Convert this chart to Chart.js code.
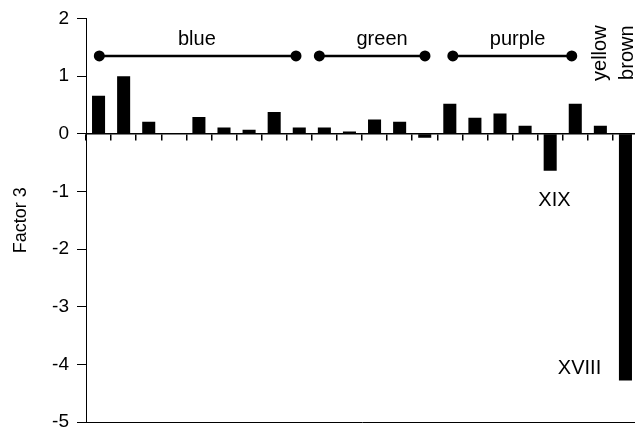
<!DOCTYPE html>
<html>
<head>
<meta charset="utf-8">
<script src="https://cdn.jsdelivr.net/npm/chart.js@4.4.1/dist/chart.umd.min.js"></script>
<style>
  html, body { margin: 0; padding: 0; background: #fff; overflow: hidden; }
  #wrap { width: 638px; height: 435px; }
</style>
</head>
<body>
<div id="wrap"><canvas id="chart"></canvas></div>
<script>
const samples = ["1", "2", "3", "4", "5", "6", "7", "8", "9", "10", "11",
                 "12", "13", "14", "15", "16", "17", "18", "19", "20", "21", "22"];
const factor3 = [0.66, 1.00, 0.21, 0, 0.29, 0.11, 0.07, 0.38, 0.11, 0.11, 0.04,
                 0.25, 0.21, -0.07, 0.52, 0.28, 0.35, 0.14, -0.64, 0.52, 0.14, -4.28];

const yTicks = [2, 1, 0, -1, -2, -3, -4, -5];

// colour groups: bracket from / to (category index), label position
const groupNames = ["blue", "green", "purple"];
const groupStart = [0.03, 8.8, 14.12];
const groupEnd = [7.87, 13.01, 18.86];
const groupLabelX = [3.92, 11.3, 16.7];
const groupLineY = 1.35;
const groupLabelY = 1.54;

// vertical labels for the single-sample groups
const sideNames = ["yellow", "brown"];
const sideX = [20.0, 21.08];
const sideTop = 1.88;

// sample notes next to bars
const noteNames = ["XIX", "XVIII"];
const noteX = [18.17, 19.17];
const noteY = [-1.25, -4.16];

const FONT = '"Liberation Sans", Arial, sans-serif';

const annotations = {
  id: "annotations",
  afterDatasetsDraw(chart) {
    const { ctx, scales: { x, y } } = chart;
    ctx.save();
    ctx.fillStyle = "#000";
    ctx.strokeStyle = "#000";
    ctx.lineWidth = 2.5;
    ctx.font = "20px " + FONT;

    const gy = y.getPixelForValue(groupLineY);
    groupNames.forEach((name, i) => {
      const x1 = x.getPixelForValue(groupStart[i]);
      const x2 = x.getPixelForValue(groupEnd[i]);
      ctx.beginPath();
      ctx.moveTo(x1, gy);
      ctx.lineTo(x2, gy);
      ctx.stroke();
      [x1, x2].forEach(px => {
        ctx.beginPath();
        ctx.arc(px, gy, 5.5, 0, Math.PI * 2);
        ctx.fill();
      });
      ctx.textAlign = "center";
      ctx.textBaseline = "alphabetic";
      ctx.fillText(name, x.getPixelForValue(groupLabelX[i]), y.getPixelForValue(groupLabelY));
    });

    // rotated labels
    sideNames.forEach((name, i) => {
      ctx.save();
      ctx.translate(x.getPixelForValue(sideX[i]), y.getPixelForValue(sideTop));
      ctx.rotate(-Math.PI / 2);
      ctx.textAlign = "right";
      ctx.textBaseline = "middle";
      ctx.fillText(name, 0, 0);
      ctx.restore();
    });

    noteNames.forEach((name, i) => {
      ctx.textAlign = "center";
      ctx.textBaseline = "alphabetic";
      ctx.fillText(name, x.getPixelForValue(noteX[i]), y.getPixelForValue(noteY[i]));
    });
    ctx.restore();
  }
};

new Chart(document.getElementById("chart"), {
  type: "bar",
  data: {
    labels: samples,
    datasets: [{
      label: "Factor 3",
      data: factor3,
      backgroundColor: "#000",
      borderWidth: 0,
      categoryPercentage: 1,
      barPercentage: 0.52
    }]
  },
  options: {
    responsive: true,
    maintainAspectRatio: false,
    animation: false,
    layout: { padding: { left: 0, right: 0, top: 18.5, bottom: 13 } },
    plugins: {
      legend: { display: false },
      tooltip: { enabled: false }
    },
    scales: {
      x: {
        type: "category",
        position: { y: 0 },
        offset: true,
        grid: { display: true, offset: true, drawOnChartArea: false, drawTicks: true, tickLength: 6, color: "#000", lineWidth: 1.5 },
        border: { display: true, color: "#000", width: 1.5 },
        ticks: { display: false }
      },
      x2: {
        type: "category",
        labels: samples,
        position: "bottom",
        afterFit: scale => { scale.height = 0; },
        grid: { display: false },
        border: { display: true, color: "#000", width: 1 },
        ticks: { display: false }
      },
      y: {
        min: -5,
        max: 2,
        afterBuildTicks: scale => { scale.ticks = yTicks.map(v => ({ value: v })); },
        afterFit: scale => {
          scale.width = 86;
          scale.paddingTop = 0;
          scale.paddingBottom = 0;
        },
        grid: { display: true, drawOnChartArea: false, drawTicks: true, tickLength: 9, color: "#000", lineWidth: 1 },
        border: { display: true, color: "#000", width: 1 },
        ticks: { color: "#000", padding: 8, font: { size: 19, family: FONT } },
        title: { display: true, text: "Factor 3", color: "#000", font: { size: 18, family: FONT }, padding: { top: 10, bottom: 0 } }
      }
    }
  },
  plugins: [annotations]
});
</script>
</body>
</html>
